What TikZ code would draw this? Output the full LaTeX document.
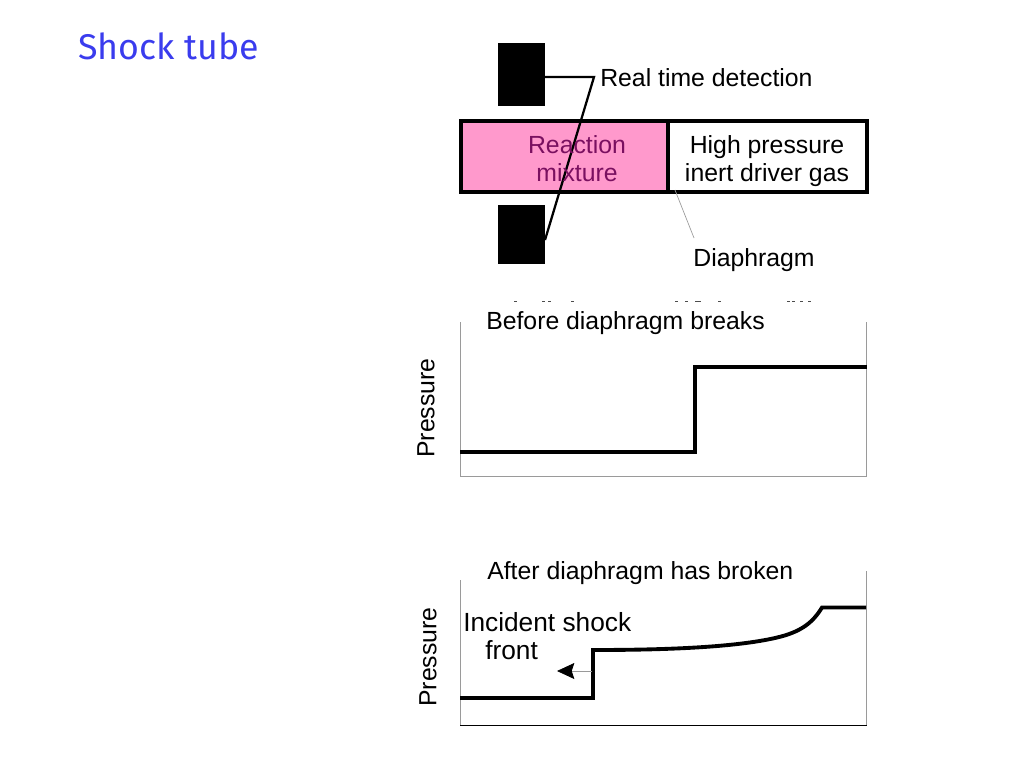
\documentclass[tikz,border=0pt]{standalone}
\usepackage{fontspec}
\setmainfont{Liberation Sans}
\newfontfamily\titlefont{Fira Sans}
\usetikzlibrary{arrows.meta}
\definecolor{pinkfill}{HTML}{FF99CC}
\definecolor{purpletext}{HTML}{7A1060}
\definecolor{titleblue}{HTML}{3A3CEE}
\definecolor{axisgrey}{HTML}{9A9A9A}
\tikzset{
  lbl/.style={inner sep=0pt,font=\fontsize{18.6pt}{21pt}\selectfont,align=center,text=black},
  tubewall/.style={draw=black,line width=3pt},
  block/.style={fill=black,draw=none},
  wire/.style={draw=black,line width=1.7pt},
  thinline/.style={draw=axisgrey,line width=0.6pt},
  trace/.style={draw=black,line width=2.9pt,line join=miter},
  speck/.style={draw=black!70,line width=0.9pt}
}
\begin{document}
\begin{tikzpicture}[x=0.75pt,y=-0.75pt]
\useasboundingbox (0,0) rectangle (1024,768);
\fill[white] (0,0) rectangle (1024,768);
\node[anchor=west,inner sep=0pt,text=titleblue,font=\titlefont\fontsize{26.8pt}{30pt}\selectfont] (title) at (78,46) {Shock tube};
% tube
\path[fill=pinkfill] (461,121) rectangle (668,192);
\draw[tubewall] (461,121) rectangle (867,192);
\draw[tubewall] (668,121) -- (668,192);
% blocks
\path[block] (498,43) rectangle (545,106);
\path[block] (498,205) rectangle (545,264);
\coordinate (topout) at (545,77);
\coordinate (botout) at (545,240);
\coordinate (knee) at (594,77);
\draw[wire,line join=miter] (topout) -- (knee) -- (botout);
\node[lbl,anchor=west] (rt) at (600,77.5) {Real time detection};
\node[lbl,text=purpletext] (rm) at (577,158.5) {Reaction\\mixture};
\node[lbl] (hp) at (767,161) {High pressure\\inert driver gas};
\node[lbl] (di) at (754,260) {Diaphragm};
\coordinate (dtop) at (675,190);
\coordinate (dbot) at (694,238);
\draw[thinline,line width=0.5pt] (dtop) -- (dbot);
% clipped remains of hidden text line
\foreach \sx in {514,542,548,571,675,685,695,698,718,787,792,800,808}
  \draw[speck] (\sx,301.5) -- ++(2.5,0);
% plot 1
\node[lbl,anchor=west] (before) at (486,323.5) {Before diaphragm breaks};
\node[lbl,rotate=90] (p1) at (426,408) {Pressure};
\draw[thinline] (460.5,322) -- (460.5,476) -- (866,476) -- (866,322);
\draw[trace] (460,452) -- (695,452) -- (695,367) -- (867,367);
% plot 2
\node[lbl,anchor=west] (after) at (487,573) {After diaphragm has broken};
\node[lbl,rotate=90] (p2) at (428,657) {Pressure};
\draw[thinline] (460.5,580) -- (460.5,725);
\draw[thinline] (866,571) -- (866,725);
\draw[draw=black,line width=0.8pt] (460,725.5) -- (867,725.5);
\draw[trace] (460,698) -- (593,698) -- (593,650) .. controls (670,650) and (735,647) .. (775,638) .. controls (802,632) and (813,622) .. (822,607.5) -- (866,607.5);
\node[lbl,anchor=west,font=\fontsize{19.7pt}{21pt}\selectfont] (inc) at (463,622) {Incident shock};
\node[lbl,anchor=west,font=\fontsize{19.7pt}{21pt}\selectfont] (fr) at (485,650) {front};
\coordinate (astart) at (592,671);
\coordinate (aend) at (557,671);
\draw[thinline,-{Stealth[black,inset=2pt,length=13pt,width=12pt]}] (astart) -- (aend);
\end{tikzpicture}
\end{document}
